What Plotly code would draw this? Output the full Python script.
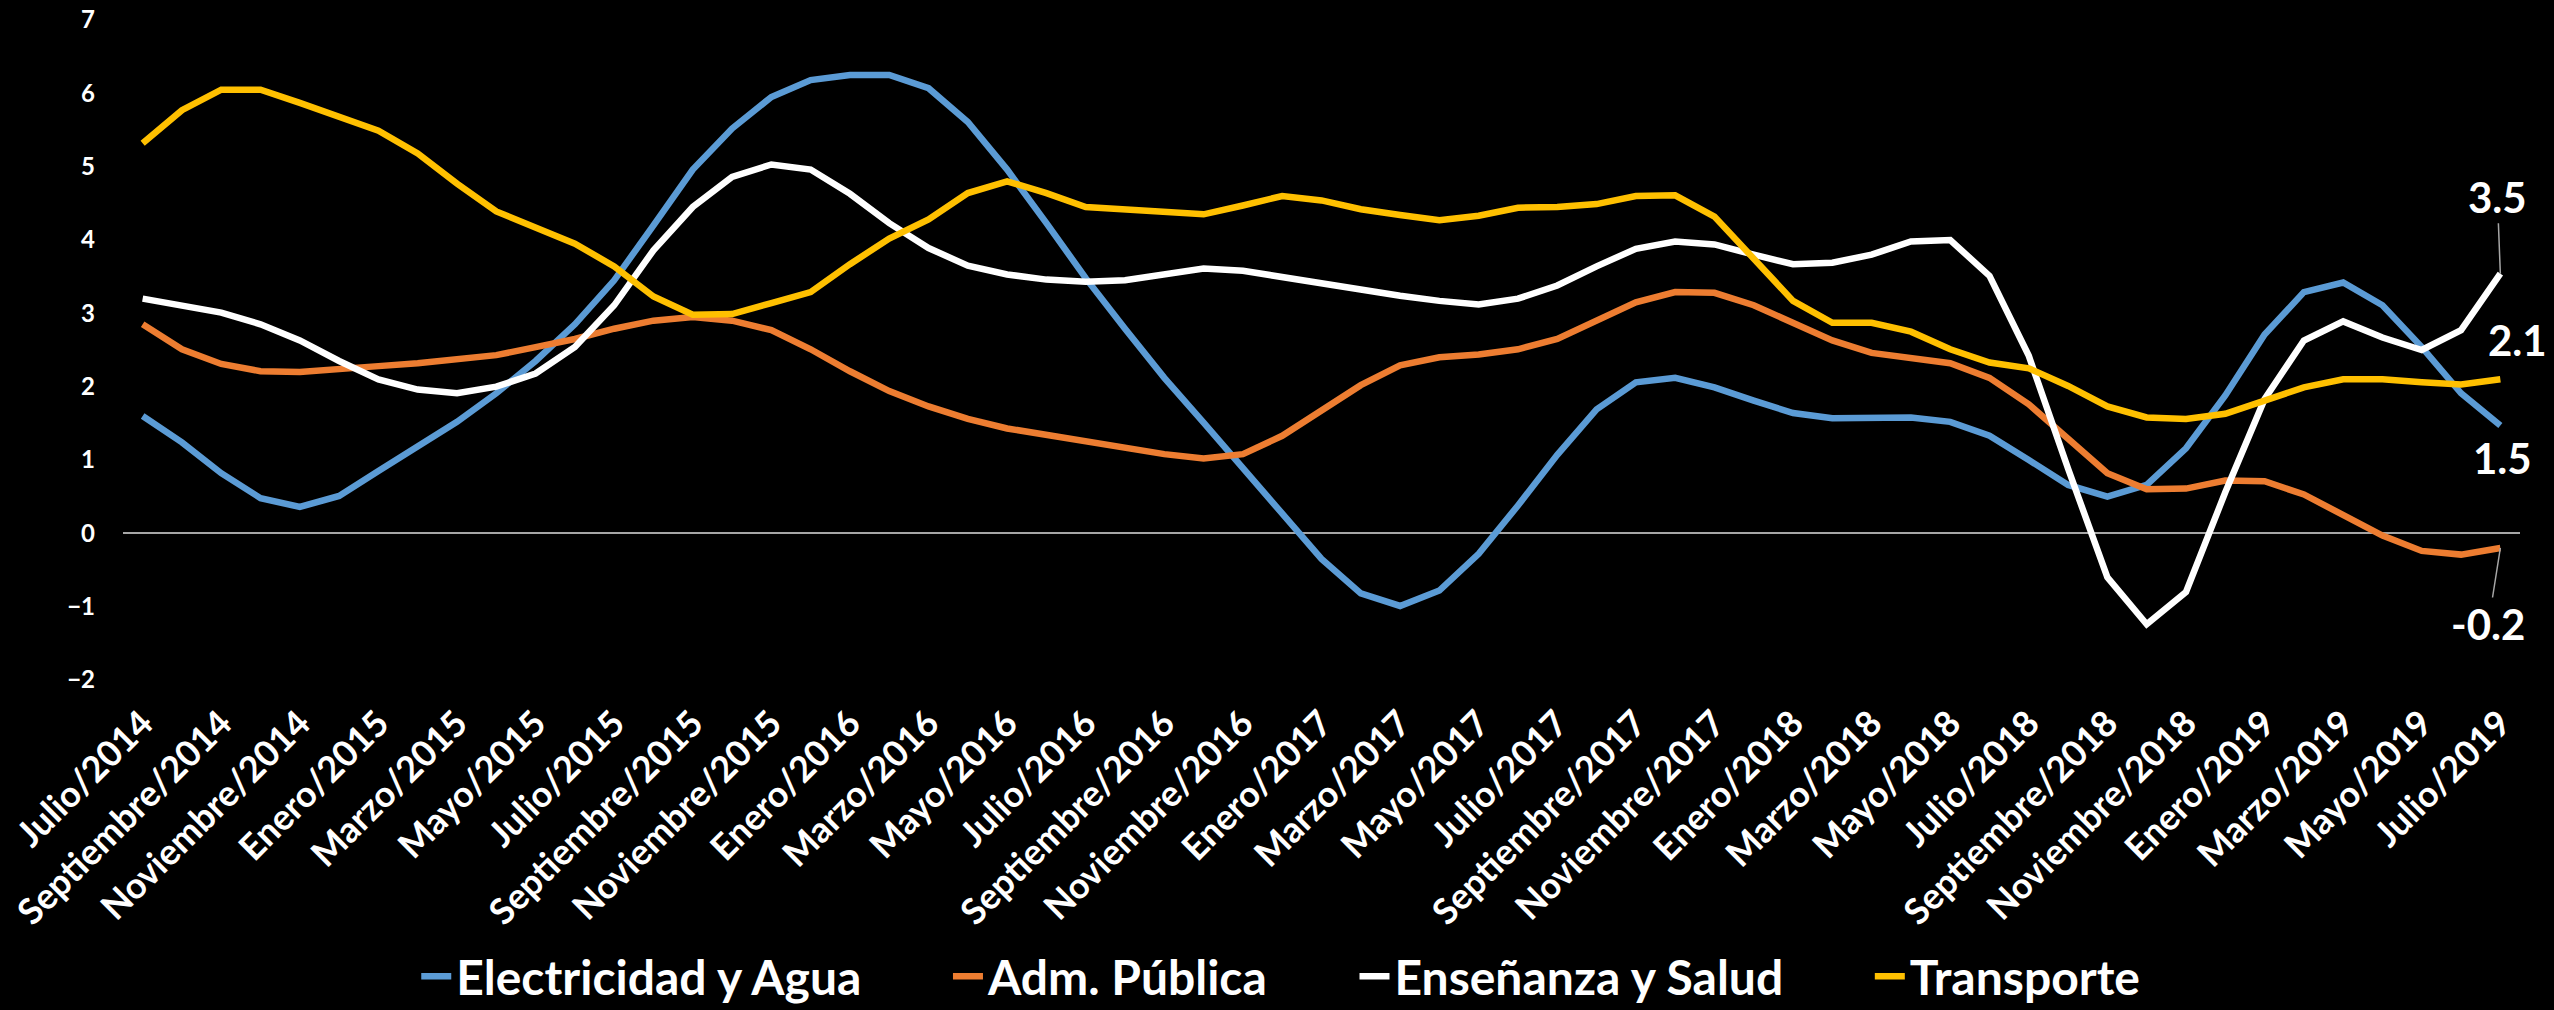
import plotly.graph_objects as go

# Monthly categories, Julio/2014 .. Julio/2019
MESES = ["Enero", "Febrero", "Marzo", "Abril", "Mayo", "Junio", "Julio",
         "Agosto", "Septiembre", "Octubre", "Noviembre", "Diciembre"]
categorias = []
for anio in range(2014, 2020):
    for k, mes in enumerate(MESES):
        if (anio == 2014 and k < 6) or (anio == 2019 and k > 6):
            continue
        categorias.append(f"{mes}/{anio}")

electricidad_agua = [
    1.60, 1.24, 0.82, 0.48, 0.36, 0.51, 0.85, 1.19, 1.52, 1.91,
    2.35, 2.85, 3.45, 4.20, 4.96, 5.52, 5.95, 6.18, 6.25, 6.25,
    6.07, 5.61, 4.96, 4.23, 3.48, 2.79, 2.12, 1.51, 0.88, 0.26,
    -0.35, -0.82, -0.99, -0.78, -0.28, 0.38, 1.07, 1.69, 2.06, 2.12,
    1.99, 1.81, 1.64, 1.57, 1.58, 1.58, 1.52, 1.33, 1.00, 0.66,
    0.50, 0.66, 1.16, 1.88, 2.71, 3.29, 3.42, 3.11, 2.54, 1.91,
    1.47,
]
adm_publica = [
    2.85, 2.51, 2.31, 2.21, 2.20, 2.23, 2.28, 2.32, 2.37, 2.43,
    2.54, 2.65, 2.79, 2.90, 2.95, 2.90, 2.77, 2.51, 2.21, 1.94,
    1.73, 1.56, 1.43, 1.34, 1.27, 1.18, 1.08, 1.02, 1.08, 1.33,
    1.68, 2.02, 2.29, 2.40, 2.44, 2.51, 2.65, 2.89, 3.15, 3.29,
    3.28, 3.11, 2.87, 2.63, 2.46, 2.38, 2.32, 2.12, 1.76, 1.29,
    0.82, 0.60, 0.61, 0.72, 0.71, 0.53, 0.26, -0.03, -0.24, -0.29,
    -0.20,
]
ensenanza_salud = [
    3.20, 3.11, 3.01, 2.85, 2.63, 2.35, 2.10, 1.96, 1.91, 2.00,
    2.18, 2.54, 3.11, 3.86, 4.45, 4.86, 5.03, 4.96, 4.63, 4.23,
    3.89, 3.65, 3.53, 3.46, 3.43, 3.45, 3.53, 3.61, 3.58, 3.49,
    3.41, 3.32, 3.24, 3.17, 3.12, 3.20, 3.38, 3.64, 3.88, 3.98,
    3.94, 3.80, 3.67, 3.69, 3.80, 3.98, 4.00, 3.51, 2.42, 0.88,
    -0.60, -1.24, -0.80, 0.56, 1.83, 2.63, 2.89, 2.67, 2.50, 2.77,
    3.54,
]
transporte = [
    5.32, 5.77, 6.05, 6.05, 5.87, 5.68, 5.49, 5.18, 4.77, 4.39,
    4.17, 3.95, 3.64, 3.23, 2.98, 2.99, 3.14, 3.29, 3.67, 4.02,
    4.28, 4.64, 4.80, 4.64, 4.45, 4.42, 4.39, 4.35, 4.47, 4.60,
    4.54, 4.42, 4.34, 4.27, 4.33, 4.44, 4.45, 4.49, 4.60, 4.61,
    4.32, 3.76, 3.17, 2.87, 2.87, 2.75, 2.51, 2.33, 2.25, 2.01,
    1.73, 1.58, 1.56, 1.63, 1.81, 1.99, 2.10, 2.10, 2.06, 2.03,
    2.10,
]

series = [
    ("Electricidad y Agua", electricidad_agua, "#5B9BD5"),
    ("Adm. Pública", adm_publica, "#ED7D31"),
    ("Enseñanza y Salud", ensenanza_salud, "#FFFFFF"),
    ("Transporte", transporte, "#FFC000"),
]

FONT = "Lato"
GAP = "\u00a0" * 7  # extra room between legend entries

fig = go.Figure()
for n, (nombre, valores, color) in enumerate(series):
    etiqueta = nombre if n == len(series) - 1 else nombre + GAP
    fig.add_trace(go.Scatter(
        x=categorias, y=valores, name=etiqueta, mode="lines",
        line=dict(color=color, width=6.5),
    ))

# End-of-series value labels: (values, x shift, y shift, leader line)
etiquetas = [
    (ensenanza_salud, -3, -77, True),
    (transporte, 17, 39, False),
    (electricidad_agua, 2, -32, False),
    (adm_publica, -12, 76, True),
]
ultimo = categorias[-1]
for valores, dx, dy, leader in etiquetas:
    v = valores[-1]
    texto = f"{v:.1f}"
    fuente = dict(family=FONT, size=42, color="white", weight="bold")
    if leader:
        fig.add_annotation(
            x=ultimo, y=v, text=texto, showarrow=True,
            ax=dx, ay=dy, arrowhead=0, arrowwidth=1.5,
            arrowcolor="#a6a6a6", standoff=0, font=fuente,
        )
    else:
        fig.add_annotation(
            x=ultimo, y=v, text=texto, showarrow=False,
            xshift=dx, yshift=dy, font=fuente,
        )

fig.update_layout(
    width=2554, height=1010,
    paper_bgcolor="black", plot_bgcolor="black",
    margin=dict(l=123, r=34, t=20, b=330, pad=0, autoexpand=False),
    font=dict(family=FONT, color="white"),
    showlegend=True,
    legend=dict(
        orientation="h", x=0.483, xanchor="center",
        yref="container", y=0.033, yanchor="middle",
        font=dict(family=FONT, size=48, color="white", weight="bold"),
        bgcolor="rgba(0,0,0,0)",
    ),
    xaxis=dict(
        type="category", range=[-0.5, len(categorias) - 0.5],
        tickmode="array", tickvals=categorias[::2], ticktext=categorias[::2],
        tickangle=-45, showgrid=False, zeroline=False, showline=False,
        ticks="", ticklabelstandoff=14, automargin=False,
        tickfont=dict(family=FONT, size=36, color="white", weight="bold"),
    ),
    yaxis=dict(
        range=[-2, 7], dtick=1, showgrid=False, showline=False,
        zeroline=True, zerolinecolor="#a6a6a6", zerolinewidth=2,
        ticks="", ticklabelstandoff=27, automargin=False,
        tickfont=dict(family=FONT, size=24, color="white", weight="bold"),
    ),
)

fig.write_html("out.html")
